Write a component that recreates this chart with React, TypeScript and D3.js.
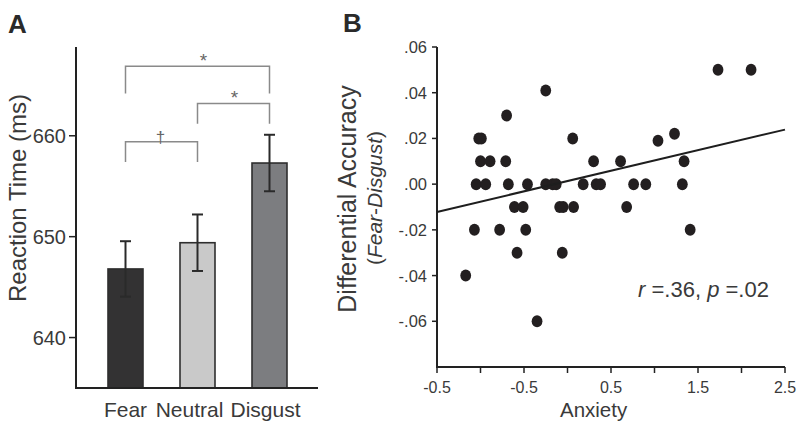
import React from "react";
import * as d3 from "d3";

// ---------- Panel A data ----------
const conditions = ["Fear", "Neutral", "Disgust"];
const meanRT = [646.8, 649.4, 657.3];
const seRT = [2.75, 2.8, 2.8];
const barColors = ["#333233", "#c9c9c9", "#7c7d80"];
const rtTicks = [640, 650, 660];
// significance brackets: from, to, bracket level, leg end, symbol
const bracketFrom = ["Fear", "Neutral", "Fear"];
const bracketTo = ["Disgust", "Disgust", "Neutral"];
const bracketLevel = [666.9, 663.2, 659.4];
const bracketLegEnd = [664.2, 661.2, 657.4];
const bracketSymbol = ["*", "*", "†"];

// ---------- Panel B data ----------
const anxiety = [
  -1.17, -1.07, -1.02, -0.99, -1.0, -1.05, -0.94, -0.89, -0.78, -0.71, -0.7,
  -0.68, -0.61, -0.51, -0.58, -0.48, -0.46, -0.35, -0.25, -0.25, -0.17, -0.13,
  -0.09, -0.05, -0.06, 0.06, 0.07, 0.18, 0.3, 0.33, 0.38, 0.61, 0.68, 0.76,
  0.9, 1.04, 1.23, 1.34, 1.32, 1.41, 1.73, 2.11,
];
const diffAccuracy = [
  -0.04, -0.02, 0.02, 0.02, 0.01, 0.0, 0.0, 0.01, -0.02, 0.01, 0.03, 0.0,
  -0.01, -0.01, -0.03, -0.02, 0.0, -0.06, 0.041, 0.0, 0.0, 0.0, -0.01, -0.01,
  -0.03, 0.02, -0.01, 0.0, 0.01, 0.0, 0.0, 0.01, -0.01, 0.0, 0.0, 0.019,
  0.022, 0.01, 0.0, -0.02, 0.05, 0.05,
];
const fitIntercept = 0.00135;
const fitSlope = 0.009;
const xTickValues = [-1.5, -1, -0.5, 0, 0.5, 1, 1.5, 2, 2.5];
const xTickLabelValues = [-1.5, -0.5, 0.5, 1.5, 2.5];
const xTickLabels = ["-0.5", "-0.5", "0.5", "1.5", "2.5"];
const yTickValues = [0.06, 0.04, 0.02, 0.0, -0.02, -0.04, -0.06];
const yTickLabels = [".06", ".04", ".02", ".00", "-.02", "-.04", "-.06"];
const statText = { r: ".36", p: ".02" };

const FONT = "'Liberation Sans', Arial, Helvetica, sans-serif";
const TXT = "#3a3a3a";

export default function App() {
  // Panel A scales
  const xA = d3
    .scaleBand<string>()
    .domain(conditions)
    .range([89.5, 305.5])
    .paddingInner(0.514)
    .paddingOuter(0.257);
  const yA = d3.scaleLinear().domain([635, 668.8]).range([388, 47]);
  const cx = (c: string) => (xA(c) as number) + xA.bandwidth() / 2;
  const labelDx = [0, -8, -4];
  const symbolDx = [6, 1, -1];

  // Panel B scales
  const xB = d3.scaleLinear().domain([-1.5, 2.5]).range([437, 785]);
  const yB = d3.scaleLinear().domain([-0.08, 0.06]).range([367, 47]);
  const fitLine = d3
    .line<number>()
    .x((v) => xB(v))
    .y((v) => yB(fitIntercept + fitSlope * v));

  return (
    <svg
      width={800}
      height={430}
      style={{ position: "absolute", left: 0, top: 0, background: "#fff" }}
      fontFamily={FONT}
    >
      <rect x={0} y={0} width={800} height={430} fill="#fff" />
      {/* ================= Panel A ================= */}
      <text x={8} y={33} fontSize={26} fontWeight="bold" fill="#2a2a2a">
        A
      </text>
      <text
        transform={`translate(26,${198}) rotate(-90)`}
        textAnchor="middle"
        fontSize={24}
        fill={TXT}
      >
        Reaction Time (ms)
      </text>
      {/* bars */}
      {conditions.map((c, i) => (
        <rect
          key={c}
          x={xA(c)}
          y={yA(meanRT[i])}
          width={xA.bandwidth()}
          height={yA(635) - yA(meanRT[i])}
          fill={barColors[i]}
          stroke="#2e2e2e"
          strokeWidth={1.6}
        />
      ))}
      {/* error bars */}
      {conditions.map((c, i) => {
        const x = cx(c);
        const t = yA(meanRT[i] + seRT[i]);
        const b = yA(meanRT[i] - seRT[i]);
        return (
          <g key={c} stroke="#2a2a2a" strokeWidth={2}>
            <line x1={x} x2={x} y1={t} y2={b} />
            <line x1={x - 5.5} x2={x + 5.5} y1={t} y2={t} />
            <line x1={x - 5.5} x2={x + 5.5} y1={b} y2={b} />
          </g>
        );
      })}
      {/* axes */}
      <line x1={76} x2={76} y1={47} y2={389} stroke="#222" strokeWidth={2} />
      <line x1={75} x2={318} y1={388} y2={388} stroke="#222" strokeWidth={2} />
      {rtTicks.map((t) => (
        <g key={t}>
          <line x1={69} x2={76} y1={yA(t)} y2={yA(t)} stroke="#222" strokeWidth={1.5} />
          <text
            x={66}
            y={yA(t)}
            dy="0.36em"
            textAnchor="end"
            fontSize={20}
            fill={TXT}
          >
            {t}
          </text>
        </g>
      ))}
      {conditions.map((c, i) => (
        <text
          key={c}
          x={cx(c) + labelDx[i]}
          y={417}
          textAnchor="middle"
          fontSize={21}
          fill={TXT}
        >
          {c}
        </text>
      ))}
      {/* significance brackets */}
      {bracketFrom.map((f, i) => {
        const x1 = cx(f);
        const x2 = cx(bracketTo[i]);
        const y = yA(bracketLevel[i]);
        const ye = yA(bracketLegEnd[i]);
        return (
          <g key={i}>
            <path
              d={`M${x1},${ye}V${y}H${x2}V${ye}`}
              fill="none"
              stroke="#8a8a8a"
              strokeWidth={1.5}
            />
            <text
              x={(x1 + x2) / 2 + symbolDx[i]}
              y={bracketSymbol[i] === "†" ? y + 1 : y + 1}
              textAnchor="middle"
              fontSize={bracketSymbol[i] === "†" ? 17 : 19}
              fill="#666"
            >
              {bracketSymbol[i]}
            </text>
          </g>
        );
      })}

      {/* ================= Panel B ================= */}
      <text x={343} y={32} fontSize={26} fontWeight="bold" fill="#2a2a2a">
        B
      </text>
      <text
        transform={`translate(356,199) rotate(-90)`}
        textAnchor="middle"
        fontSize={25}
        fill={TXT}
      >
        Differential Accuracy
      </text>
      <text
        transform={`translate(382,198) rotate(-90)`}
        textAnchor="middle"
        fontSize={21}
        fill={TXT}
      >
        (<tspan fontStyle="italic">Fear</tspan>-
        <tspan fontStyle="italic">Disgust</tspan>)
      </text>
      {/* axes */}
      <line x1={437} x2={437} y1={yB(0.06)} y2={368} stroke="#222" strokeWidth={2} />
      <line x1={436} x2={785} y1={367} y2={367} stroke="#222" strokeWidth={2} />
      {yTickValues.map((v, i) => (
        <g key={v}>
          <line x1={432} x2={437} y1={yB(v)} y2={yB(v)} stroke="#222" strokeWidth={1.5} />
          <text
            x={427}
            y={yB(v)}
            dy="0.36em"
            textAnchor="end"
            fontSize={16.5}
            fill={TXT}
          >
            {yTickLabels[i]}
          </text>
        </g>
      ))}
      {xTickValues.map((v) => (
        <line
          key={v}
          x1={xB(v)}
          x2={xB(v)}
          y1={367}
          y2={373}
          stroke="#222"
          strokeWidth={1.5}
        />
      ))}
      {xTickLabelValues.map((v, i) => (
        <text
          key={v}
          x={xB(v)}
          y={393}
          textAnchor="middle"
          fontSize={16}
          fill={TXT}
        >
          {xTickLabels[i]}
        </text>
      ))}
      <text x={xB(0.3)} y={417} textAnchor="middle" fontSize={20.5} fill={TXT}>
        Anxiety
      </text>
      {/* points */}
      {anxiety.map((a, i) => (
        <ellipse
          key={i}
          cx={xB(a)}
          cy={yB(diffAccuracy[i])}
          rx={5.4}
          ry={6}
          fill="#231f20"
        />
      ))}
      {/* regression line */}
      <path
        d={fitLine([-1.5, 2.5]) as string}
        fill="none"
        stroke="#1e1e1e"
        strokeWidth={2}
      />
      <text x={638} y={297} fontSize={22} fill={TXT}>
        <tspan fontStyle="italic">r</tspan> =
        {statText.r}, <tspan fontStyle="italic">p</tspan> ={statText.p}
      </text>
    </svg>
  );
}
